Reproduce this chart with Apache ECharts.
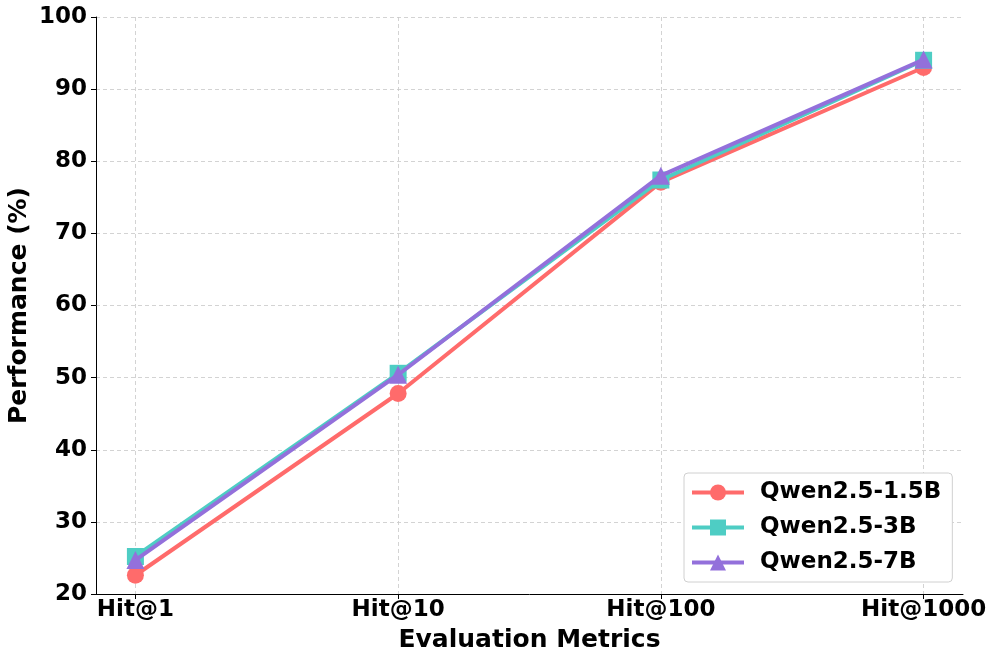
<!DOCTYPE html>
<html><head><meta charset="utf-8">
<script src="https://cdn.jsdelivr.net/npm/echarts@6/dist/echarts.min.js"></script>
<style>html,body{margin:0;padding:0;background:#fff}#c{width:996px;height:663px}</style>
</head><body><div id="c"></div>
<script>
const categories = ['Hit@1', 'Hit@10', 'Hit@100', 'Hit@1000'];
const seriesNames = ['Qwen2.5-1.5B', 'Qwen2.5-3B', 'Qwen2.5-7B'];
const qwen15 = [22.6, 47.8, 77.1, 93.0];
const qwen3 = [25.2, 50.6, 77.4, 94.0];
const qwen7 = [24.7, 50.4, 78.0, 94.1];
const yTicks = [20, 30, 40, 50, 60, 70, 80, 90, 100];

const colors = ['#FF6B6B', '#4ECDC4', '#9370DB'];
const symbols = ['circle', 'rect', 'triangle'];
const values = [qwen15, qwen3, qwen7];
const font = 'DejaVu Sans';
const idx = categories.map((_, i) => i);

const chart = echarts.init(document.getElementById('c'), null, {renderer: 'canvas'});
chart.setOption({
  animation: false,
  backgroundColor: '#fff',
  textStyle: {fontFamily: font},
  grid: {left: 96, right: 33, top: 17, bottom: 69, containLabel: false, outerBoundsMode: 'none'},
  xAxis: {
    type: 'value', min: -0.15, max: 3.15,
    name: 'Evaluation Metrics', nameLocation: 'middle', nameGap: 34, nameMoveOverlap: false,
    nameTextStyle: {fontFamily: font, fontWeight: 'bold', fontSize: 25, color: '#000'},
    axisLine: {show: true, onZero: false, lineStyle: {color: '#000', width: 1}},
    axisTick: {show: true, customValues: idx, length: 5, inside: false, lineStyle: {color: '#000'}},
    axisLabel: {customValues: idx, formatter: v => categories[Math.round(v)], fontFamily: font, fontWeight: 'bold', fontSize: 23, color: '#000', margin: 5},
    splitLine: {show: true, lineStyle: {color: '#c8c8c8', type: [4, 3], width: 0.8}}
  },
  yAxis: {
    type: 'value', min: 20, max: 100, interval: 10,
    name: 'Performance (%)', nameLocation: 'middle', nameGap: 64, nameMoveOverlap: false,
    nameTextStyle: {fontFamily: font, fontWeight: 'bold', fontSize: 25, color: '#000'},
    axisLine: {show: true, onZero: false, lineStyle: {color: '#000', width: 1}},
    axisTick: {show: true, length: 5, inside: false, lineStyle: {color: '#000'}},
    axisLabel: {formatter: v => yTicks.includes(v) ? String(v) : '', fontFamily: font, fontWeight: 'bold', fontSize: 23, color: '#000', margin: 9},
    splitLine: {show: true, lineStyle: {color: '#c8c8c8', type: [4, 3], width: 0.8}}
  },
  legend: {
    orient: 'vertical', left: 684, top: 473,
    data: seriesNames,
    backgroundColor: '#fff', borderColor: '#d0d0d0', borderWidth: 1, borderRadius: 4,
    padding: [8, 11, 8, 6], itemGap: 12, itemWidth: 52, itemHeight: 20,
    lineStyle: {width: 4},
    textStyle: {fontFamily: font, fontWeight: 'bold', fontSize: 23, lineHeight: 22, color: '#000', padding: [0, 0, 0, 11]}
  },
  series: seriesNames.map((n, s) => ({
    name: n, type: 'line',
    data: values[s].map((v, i) => [i, v]),
    symbol: symbols[s], symbolSize: s === 2 ? 18 : 17,
    lineStyle: {color: colors[s], width: 4},
    itemStyle: {color: colors[s]},
    z: 2 + s
  }))
});
</script></body></html>
